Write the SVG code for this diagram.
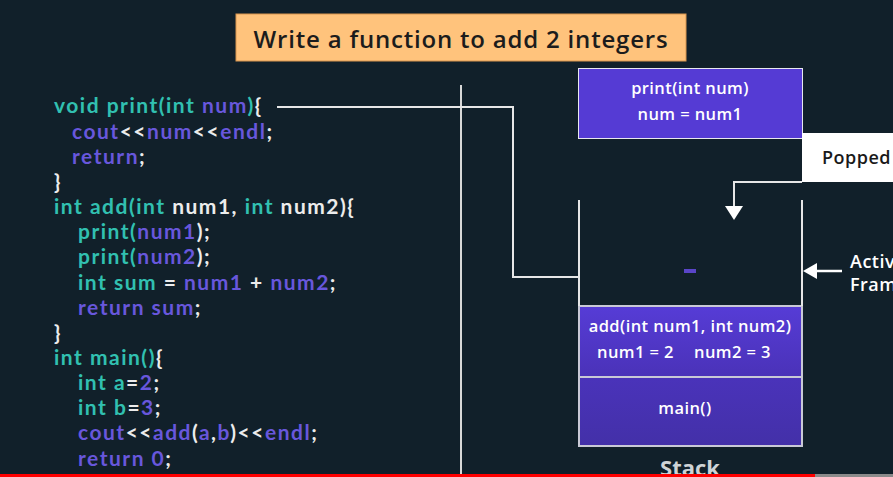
<svg xmlns="http://www.w3.org/2000/svg" width="893" height="477" viewBox="0 0 893 477">
<defs>
<style>
.code{font-family:Lato,"Open Sans","Liberation Sans",sans-serif;font-size:21px;font-weight:700;letter-spacing:1.5px}
.t{fill:#31c0b1}.p{fill:#6857dc}.w{fill:#ececec}
.lbl{font-family:"Open Sans","Liberation Sans",sans-serif;font-size:16.5px;font-weight:600;fill:#ffffff;text-anchor:middle;letter-spacing:0.4px}
.side{font-family:"Open Sans","Liberation Sans",sans-serif;font-size:18px;font-weight:600;letter-spacing:0.5px}
.conn{fill:none;stroke:#e6e6e6;stroke-width:2}
</style>
<linearGradient id="gAdd" x1="0" y1="0" x2="0" y2="1"><stop offset="0" stop-color="#563cd6"/><stop offset="1" stop-color="#4a32b8"/></linearGradient>
<linearGradient id="gMain" x1="0" y1="0" x2="0" y2="1"><stop offset="0" stop-color="#4a33ba"/><stop offset="1" stop-color="#4330a8"/></linearGradient>
</defs>
<rect x="0" y="0" width="893" height="477" fill="#11202a"/>

<g id="title">
<rect x="236" y="14" width="450" height="47" fill="#ffc37c" stroke="#d9954e" stroke-width="1"/>
<text x="461" y="48" text-anchor="middle" font-family="Open Sans, Liberation Sans, sans-serif" font-size="24" font-weight="600" letter-spacing="0.8" fill="#1c1c1c">Write a function to add 2 integers</text>
</g>

<g id="divider"><line x1="461" y1="85" x2="461" y2="477" stroke="#d8d8d8" stroke-width="2"/></g>

<g id="code" class="code">
<text x="54" y="113"><tspan class="t">void print(int </tspan><tspan class="p">num</tspan><tspan class="t">)</tspan><tspan class="w">{</tspan></text>
<text x="72" y="139"><tspan class="p">cout</tspan><tspan class="w">&lt;&lt;</tspan><tspan class="p">num</tspan><tspan class="w">&lt;&lt;</tspan><tspan class="p">endl</tspan><tspan class="w">;</tspan></text>
<text x="72" y="164"><tspan class="p">return</tspan><tspan class="w">;</tspan></text>
<text x="54" y="189" class="w">}</text>
<text x="54" y="214"><tspan class="t">int add(int </tspan><tspan class="w">num1, </tspan><tspan class="t">int </tspan><tspan class="w">num2){</tspan></text>
<text x="78" y="239"><tspan class="t">print(</tspan><tspan class="p">num1</tspan><tspan class="w">);</tspan></text>
<text x="78" y="264"><tspan class="t">print(</tspan><tspan class="p">num2</tspan><tspan class="w">);</tspan></text>
<text x="78" y="290"><tspan class="t">int sum </tspan><tspan class="w">= </tspan><tspan class="p">num1</tspan><tspan class="w"> + </tspan><tspan class="p">num2</tspan><tspan class="w">;</tspan></text>
<text x="78" y="315"><tspan class="p">return sum</tspan><tspan class="w">;</tspan></text>
<text x="54" y="340" class="w">}</text>
<text x="54" y="365"><tspan class="t">int main()</tspan><tspan class="w">{</tspan></text>
<text x="78" y="390"><tspan class="t">int a</tspan><tspan class="w">=</tspan><tspan class="p">2</tspan><tspan class="w">;</tspan></text>
<text x="78" y="415"><tspan class="t">int b</tspan><tspan class="w">=</tspan><tspan class="p">3</tspan><tspan class="w">;</tspan></text>
<text x="78" y="440"><tspan class="p">cout</tspan><tspan class="w">&lt;&lt;</tspan><tspan class="p">add</tspan><tspan class="w">(</tspan><tspan class="p">a</tspan><tspan class="w">,</tspan><tspan class="p">b</tspan><tspan class="w">)&lt;&lt;</tspan><tspan class="p">endl</tspan><tspan class="w">;</tspan></text>
<text x="78" y="466"><tspan class="p">return 0</tspan><tspan class="w">;</tspan></text>
</g>

<g id="print-frame">
<rect x="578.5" y="68.5" width="224" height="70" fill="#553bd4" stroke="#e8e8f0" stroke-width="1"/>
<text class="lbl" x="690" y="94">print(int num)</text>
<text class="lbl" x="690" y="120">num = num1</text>
</g>

<g id="popped">
<rect x="802" y="133" width="100" height="49" fill="#ffffff"/>
<text class="side" x="822" y="164" fill="#1a1a1a">Popped</text>
</g>

<g id="add-frame">
<rect x="579" y="306" width="223" height="71" fill="url(#gAdd)" stroke="#c9c9d6" stroke-width="2"/>
<text class="lbl" x="690" y="332">add(int num1, int num2)</text>
<text class="lbl" x="597" y="358" style="text-anchor:start">num1 = 2</text>
<text class="lbl" x="694" y="358" style="text-anchor:start">num2 = 3</text>
</g>

<g id="main-frame">
<rect x="579" y="377" width="223" height="69" fill="url(#gMain)" stroke="#c9c9d6" stroke-width="2"/>
<text class="lbl" x="685" y="414">main()</text>
</g>

<g id="stack">
<line x1="579" y1="200" x2="579" y2="306" stroke="#e6e6e6" stroke-width="2"/>
<line x1="802" y1="200" x2="802" y2="306" stroke="#e6e6e6" stroke-width="2"/>
<rect x="684" y="269" width="12" height="4" fill="#5a45c8"/>
<text x="690" y="476" text-anchor="middle" font-family="Open Sans, Liberation Sans, sans-serif" font-size="22" font-weight="700" fill="#cfd3d6">Stack</text>
</g>

<g id="active-frame">
<text class="side" x="850" y="268" fill="#ffffff">Active</text>
<text class="side" x="850" y="291" fill="#ffffff">Frame</text>
</g>

<g id="connectors">
<polyline class="conn" points="277,107 513,107 513,277 579,277"/>
<polyline class="conn" points="802,182 734,182 734,206"/>
<polygon points="725,206 743,206 734,220" fill="#ffffff"/>
<line x1="814" y1="271" x2="842" y2="271" stroke="#ffffff" stroke-width="2.5"/>
<polygon points="803,271 817,263 817,279" fill="#ffffff"/>
</g>

<g id="progress">
<rect x="0" y="474" width="815" height="3" fill="#ff0000"/>
<rect x="815" y="474" width="78" height="3" fill="#8a8a8a"/>
</g>
</svg>
